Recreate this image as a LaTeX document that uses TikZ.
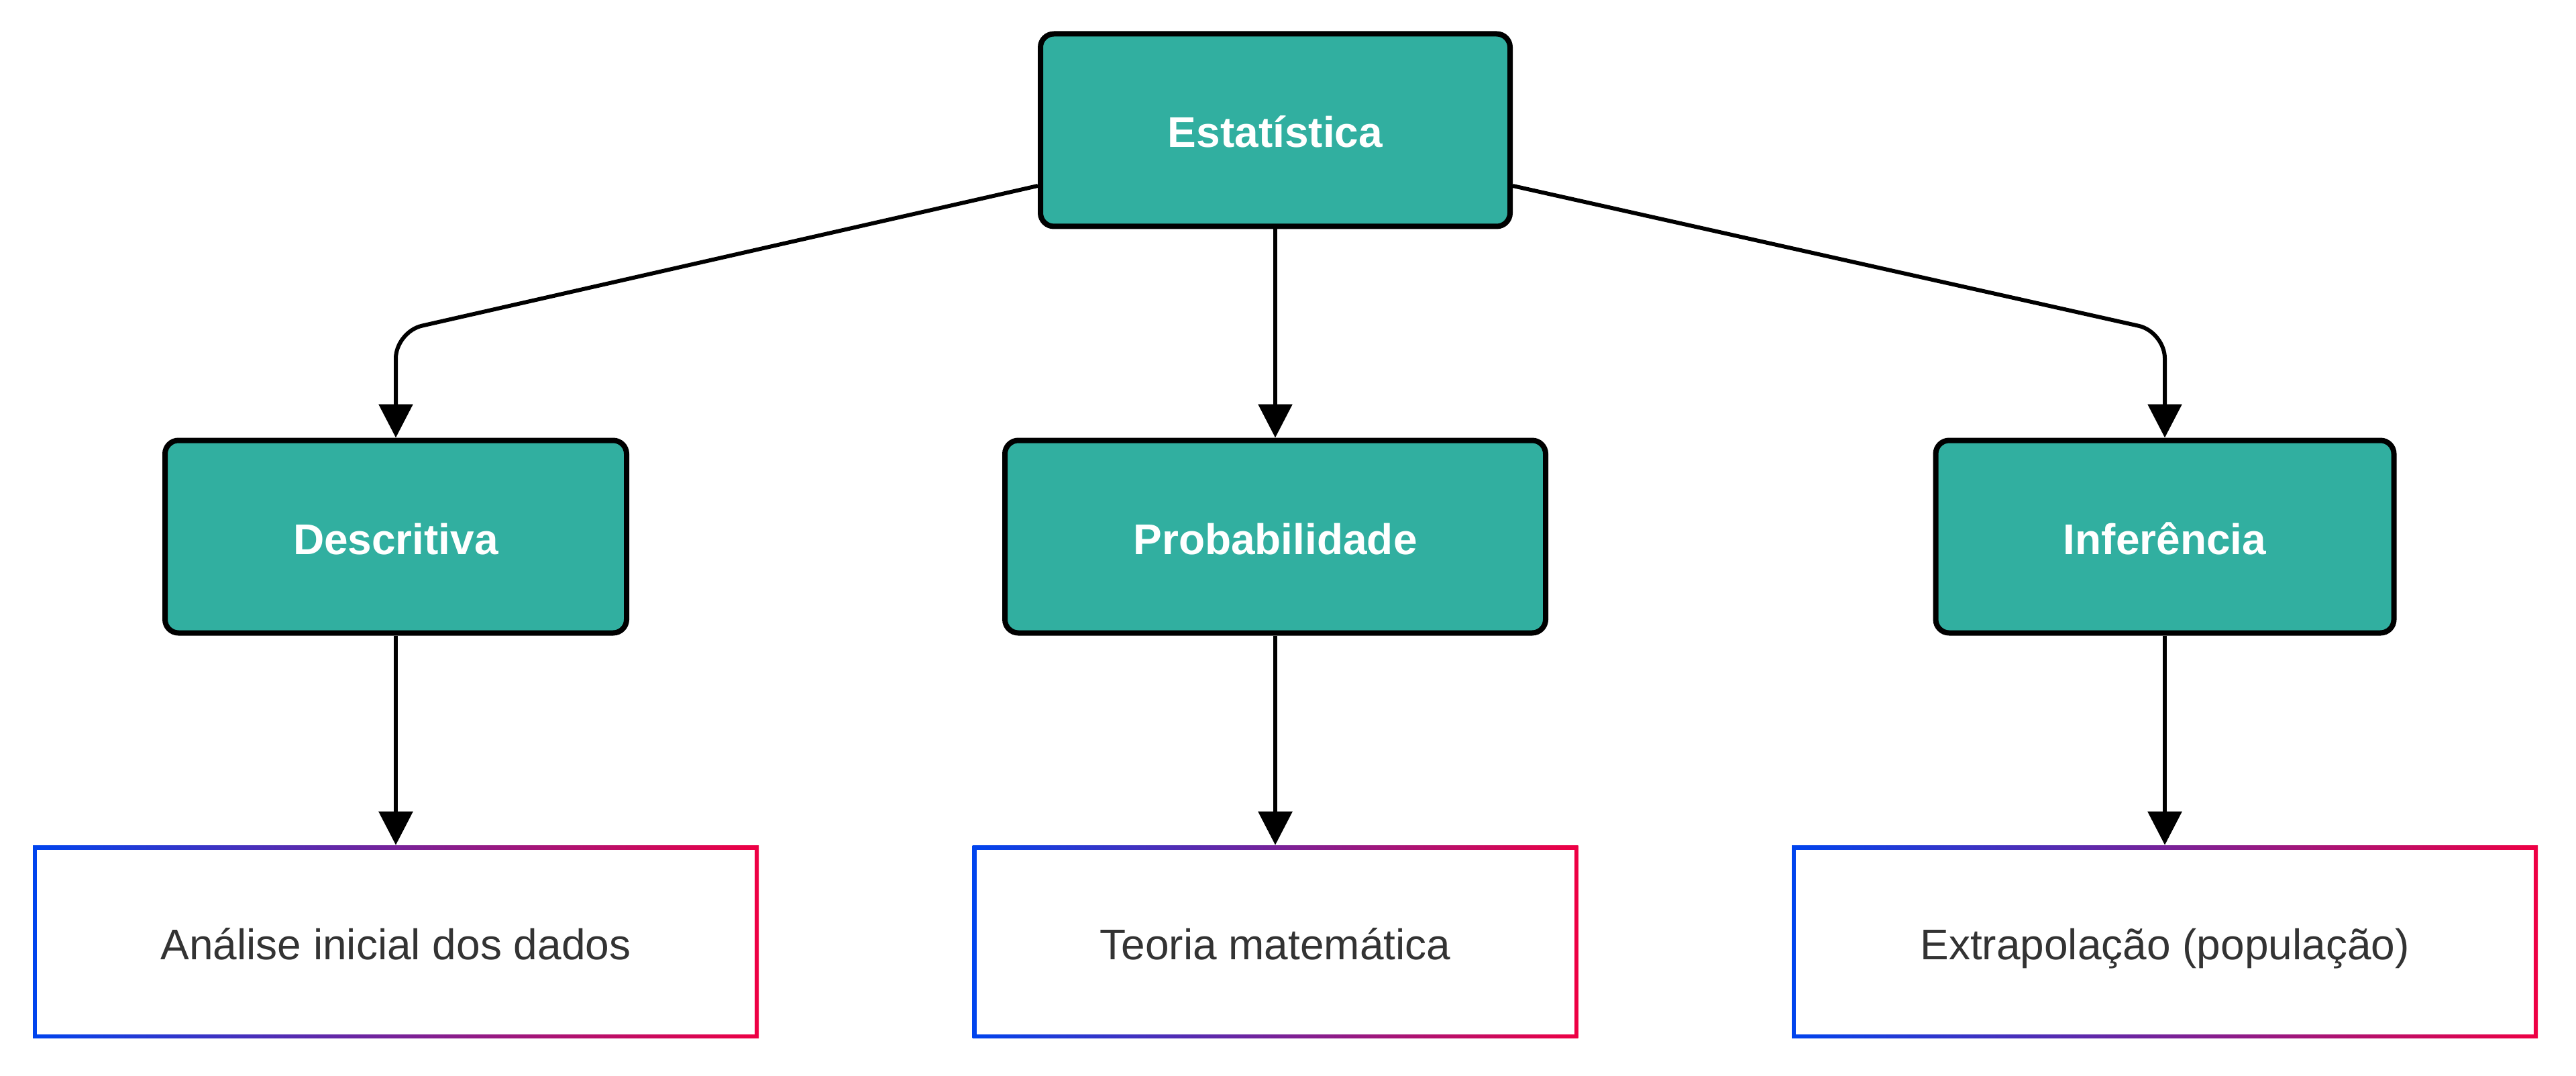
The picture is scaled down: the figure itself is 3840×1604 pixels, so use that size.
\documentclass[tikz,border=0pt]{standalone}
\usepackage{fontspec}
\setmainfont{Liberation Sans}
\usetikzlibrary{arrows.meta,backgrounds,calc}
\definecolor{teal1}{HTML}{31AFA0}
\definecolor{gblue}{HTML}{0044EE}
\definecolor{gred}{HTML}{EE0044}
\definecolor{txtgray}{HTML}{333333}
\tikzset{
  topbox/.style={draw=black, line width=2pt, fill=teal1, rounded corners=5pt,
    minimum height=71.75pt, text=white, inner sep=0pt,
    text height=13pt, text depth=0pt,
    font=\fontsize{16pt}{19pt}\selectfont\bfseries},
  leafbox/.style={left color=gblue, right color=gred, minimum height=71.75pt,
    text=txtgray, inner sep=0pt, font=\fontsize{16pt}{19pt}\selectfont,
    text height=13pt, text depth=0pt,
    path picture={\fill[white] ([shift={(1.5pt,1.5pt)}]path picture bounding box.south west)
      rectangle ([shift={(-1.5pt,-1.5pt)}]path picture bounding box.north east);}},
  conn/.style={draw=black, line width=1.5pt, -{Triangle[length=12.5pt,width=12.5pt]},
    rounded corners=10pt},
}
\begin{document}
\begin{tikzpicture}[x=0.25pt,y=-0.25pt]
\useasboundingbox (0,0) rectangle (3840,1604);
\fill[white] (0,0) rectangle (3840,1604);
% top row
\node[topbox, minimum width=175pt] (estat) at (1901,194) {Estatística};
\node[topbox, minimum width=172pt] (desc) at (590,800) {Descritiva};
\node[topbox, minimum width=201.5pt] (prob) at (1901,800) {Probabilidade};
\node[topbox, minimum width=170.75pt] (inf) at (3227,800) {Inferência};
% leaves
\node[leafbox, minimum width=270.5pt] (an) at (590,1404) {Análise inicial dos dados};
\node[leafbox, minimum width=225.75pt] (teo) at (1901,1404) {Teoria matemática};
\node[leafbox, minimum width=278pt] (ext) at (3227,1404) {Extrapolação (população)};
% shadows
\begin{scope}[on background layer]
\foreach \n in {estat,desc,prob,inf,an,teo,ext}{
  \foreach \i in {1,...,6}{
    \fill[black,opacity=0.02,rounded corners=5pt]
      ($(\n.south west)+(-\i*0.9pt,-\i*0.9pt-2.5pt)$) rectangle
      ($(\n.north east)+(\i*0.9pt,\i*0.9pt-2.5pt)$);
  }
}
\end{scope}
% connectors
\draw[conn] ([yshift=-20.75pt]estat.west) -- ([yshift=39.5pt]desc.north) -- (desc.north);
\draw[conn] (estat.south) -- (prob.north);
\draw[conn] ([yshift=-20.75pt]estat.east) -- ([yshift=39.5pt]inf.north) -- (inf.north);
\draw[conn] (desc.south) -- (an.north);
\draw[conn] (prob.south) -- (teo.north);
\draw[conn] (inf.south) -- (ext.north);
\end{tikzpicture}
\end{document}
